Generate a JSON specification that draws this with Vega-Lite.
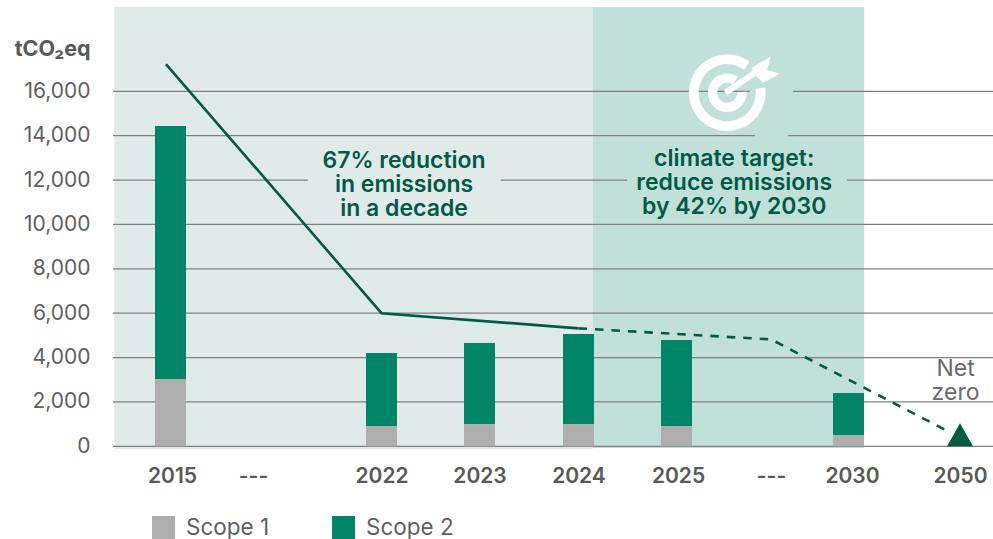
{"$schema":"https://vega.github.io/schema/vega-lite/v6.json","width":880,"height":442,"autosize":"none","padding":{"left":113,"top":7,"right":0,"bottom":90},"background":"white","config":{"view":{"stroke":null},"font":"Inter"},
"datasets":{"bands":[{"start":2014.02,"end":2024.148,"top":19800,"bottom":-120,"period":"achieved"},{"start":2024.148,"end":2032.8,"top":19800,"bottom":-70,"period":"target"}],
"grid":[{"v":16000,"a":2014,"b":2027.33},{"v":16000,"a":2028.57,"b":2051},{"v":14000,"a":2014,"b":2027.49},{"v":14000,"a":2028.44,"b":2051},{"v":12000,"a":2014,"b":2019.69},{"v":12000,"a":2023.217,"b":2024.495},{"v":12000,"a":2029.96,"b":2051},{"v":10000,"a":2014,"b":2051},{"v":8000,"a":2014,"b":2051},{"v":6000,"a":2014,"b":2051},{"v":4000,"a":2014,"b":2051},{"v":2000,"a":2014,"b":2051},{"v":0,"a":2014,"b":2051}],
"bars":[{"year":2015,"scope":"Scope 1","t":3030},{"year":2015,"scope":"Scope 2","t":11405},{"year":2022,"scope":"Scope 1","t":915},{"year":2022,"scope":"Scope 2","t":3290},{"year":2023,"scope":"Scope 1","t":1005},{"year":2023,"scope":"Scope 2","t":3650},{"year":2024,"scope":"Scope 1","t":1005},{"year":2024,"scope":"Scope 2","t":4055},{"year":2025,"scope":"Scope 1","t":915},{"year":2025,"scope":"Scope 2","t":3875},{"year":2030,"scope":"Scope 1","t":510},{"year":2030,"scope":"Scope 2","t":1890}],
"actual":[{"year":2014.92,"t":17230},{"year":2022,"t":6000},{"year":2024,"t":5318}],
"path":[{"year":2024,"t":5318},{"year":2028,"t":4820},{"year":2048,"t":660}]},
"layer":[
{"data":{"name":"bands"},"mark":{"type":"rect"},"encoding":{"x":{"field":"start","type":"quantitative","scale":{"type":"linear","domain":[2014,2015,2018,2022,2023,2024,2025,2028,2030,2050,2051],"range":[0,57.5,141,268.5,366.5,465.5,563.5,658,735.5,847,880],"zero":false,"nice":false,"padding":0},"axis":{"values":[2015,2018,2022,2023,2024,2025,2028,2030,2050],"title":null,"domain":false,"ticks":false,"grid":false,"labelExpr":"datum.value===2018||datum.value===2028?'---':format(datum.value,'d')","labelFont":"Inter","labelFontSize":21,"labelFontWeight":600,"labelColor":"#595959","labelPadding":16,"labelOverlap":false,"labelFlush":false,"labelOffset":{"condition":[{"test":"datum.value===2030","value":3.5},{"test":"datum.value===2015||datum.value===2025","value":1.5},{"test":"datum.value===2018","value":-1}],"value":0}}},"x2":{"field":"end"},"y":{"field":"top","type":"quantitative","scale":{"domain":[-120,19800],"nice":false,"zero":false},"axis":{"values":[0,2000,4000,6000,8000,10000,12000,14000,16000],"format":",d","title":"tCO₂eq","titleAngle":0,"titleFont":"Inter","titleFontSize":21.5,"titleFontWeight":700,"titleColor":"#595959","titleAlign":"right","titleBaseline":"middle","titleX":-23,"titleY":42,"domain":false,"ticks":false,"grid":false,"labelFont":"Inter","labelFontSize":21,"labelFontWeight":400,"labelColor":"#5f5f5f","labelPadding":23}},"y2":{"field":"bottom"},"color":{"field":"period","type":"nominal","scale":{"domain":["achieved","target"],"range":["#e0ebe9","#c1e0d9"]},"legend":null}}},
{"data":{"name":"grid"},"mark":{"type":"rule","color":"#808080","strokeWidth":1.2},"encoding":{"x":{"field":"a","type":"quantitative"},"x2":{"field":"b"},"y":{"field":"v","type":"quantitative"}}},
{"data":{"name":"bars"},"mark":{"type":"bar","width":31},"encoding":{"x":{"field":"year","type":"quantitative"},"y":{"field":"t","type":"quantitative","stack":"zero"},"order":{"field":"scope"},"fill":{"field":"scope","type":"nominal","scale":{"domain":["Scope 1","Scope 2"],"range":["#aeaeae","#008566"]},"legend":{"title":null,"orient":"none","legendX":39,"legendY":509,"direction":"horizontal","symbolType":"square","symbolSize":529,"symbolStrokeWidth":0,"labelFont":"Inter","labelFontSize":22.5,"labelColor":"#5f5f5f","labelOffset":11,"columnPadding":62}}}},
{"data":{"name":"actual"},"mark":{"type":"line","color":"#005a46","strokeWidth":2.6},"encoding":{"x":{"field":"year","type":"quantitative"},"y":{"field":"t","type":"quantitative"}}},
{"data":{"name":"path"},"mark":{"type":"line","color":"#005a46","strokeWidth":2.6,"strokeDash":[8.5,8]},"encoding":{"x":{"field":"year","type":"quantitative"},"y":{"field":"t","type":"quantitative"}}},
{"data":{"values":[{"year":2050,"t":0}]},"mark":{"type":"point","filled":true,"opacity":1,"color":"#005a46","strokeWidth":0,"size":676,"shape":"M-1,0L1,0L0,-1.77Z"},"encoding":{"x":{"field":"year","type":"quantitative"},"y":{"field":"t","type":"quantitative"}}},
{"data":{"values":[{"year":2026.61,"t":15935}]},"mark":{"type":"point","filled":true,"opacity":1,"color":"#ffffff","strokeWidth":0,"size":4,"shape":"M37.9,-5.3A38.3,38.3 0 1 1 22.5,-31L16.8,-23.1A28.5,28.5 0 1 0 28.2,-4ZM19.3,-1A19.3,19.3 0 1 1 10.8,-16L5.6,-8.3A10,10 0 1 0 10,-0.5ZM-3.4,-2.5L25.3,-22.1L24.4,-25L43.4,-36L40,-22.7L52.5,-19L36,-10L28.7,-17.1L0,2.5Z"},"encoding":{"x":{"field":"year","type":"quantitative"},"y":{"field":"t","type":"quantitative"}}},
{"data":{"values":[{"year":2022.23,"t":12857,"note":"67% reduction\nin emissions\nin a decade"},{"year":2026.83,"t":12951,"note":"climate target:\nreduce emissions\nby 42% by 2030"}]},"mark":{"type":"text","font":"Inter","fontSize":23,"fontWeight":600,"color":"#005a46","align":"center","baseline":"middle","lineBreak":"\n","lineHeight":24},"encoding":{"x":{"field":"year","type":"quantitative"},"y":{"field":"t","type":"quantitative"},"text":{"field":"note"}}},
{"data":{"values":[{"year":2049.2,"t":3480,"note":"Net\nzero"}]},"mark":{"type":"text","font":"Inter","fontSize":23,"fontWeight":400,"color":"#6a6a6a","align":"center","baseline":"middle","lineBreak":"\n","lineHeight":24},"encoding":{"x":{"field":"year","type":"quantitative"},"y":{"field":"t","type":"quantitative"},"text":{"field":"note"}}}
]}
